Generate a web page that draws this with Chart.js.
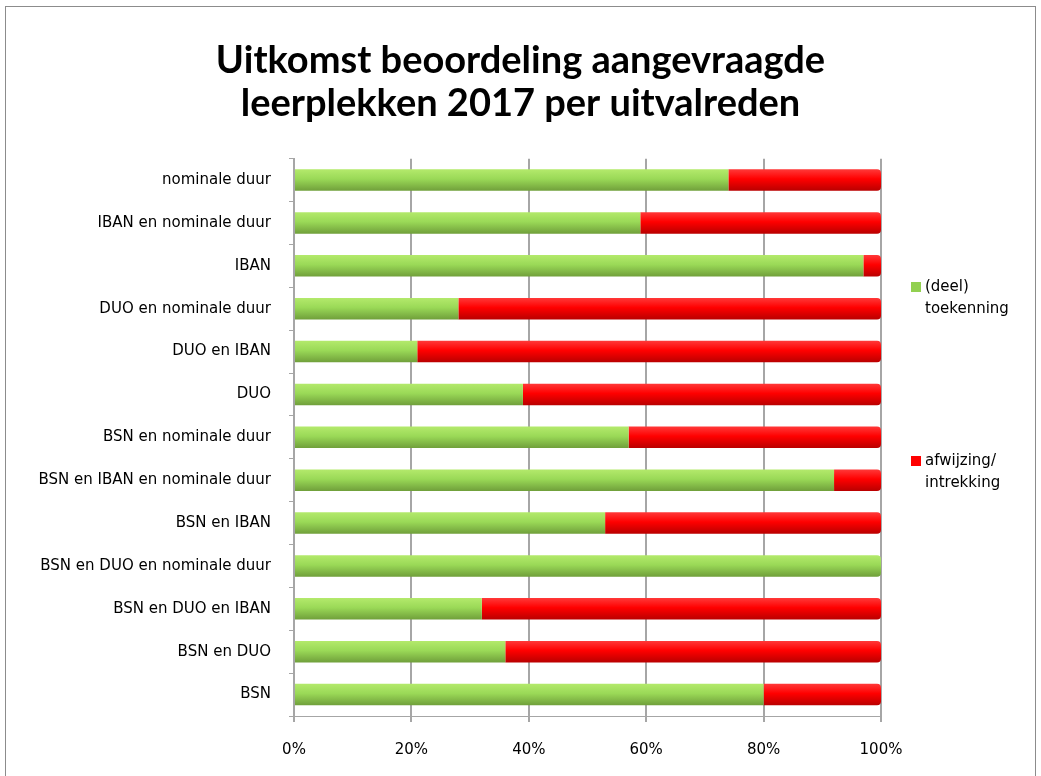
<!DOCTYPE html>
<html>
<head>
<meta charset="utf-8">
<script src="https://cdn.jsdelivr.net/npm/chart.js@4"></script>
<style>
  html, body { margin: 0; padding: 0; background: #fff; }
  #wrap { width: 1041px; height: 776px; }
</style>
</head>
<body>
<div id="wrap"><canvas id="chart" width="1041" height="776"></canvas></div>
<script>
const categories = [
  "nominale duur",
  "IBAN en nominale duur",
  "IBAN",
  "DUO en nominale duur",
  "DUO en IBAN",
  "DUO",
  "BSN en nominale duur",
  "BSN en IBAN en nominale duur",
  "BSN en IBAN",
  "BSN en DUO en nominale duur",
  "BSN en DUO en IBAN",
  "BSN en DUO",
  "BSN",
];
const toekenning = [74, 59, 97, 28, 21, 39, 57, 92, 53, 100, 32, 36, 80];
const afwijzing = [26, 41, 3, 72, 79, 61, 43, 8, 47, 0, 68, 64, 20];
const seriesNames = [["(deel)", "toekenning"], ["afwijzing/", "intrekking"]];
const titleLines = ["Uitkomst beoordeling aangevraagde", "leerplekken 2017 per uitvalreden"];

const GREEN = ["#b4ea6c", "#9ad957", "#6f9e3a"];
const RED = ["#ff3a3a", "#ff0000", "#b80000"];
const LABEL_FONT = "DejaVu Sans";

// cylinder look: vertical gradient per bar
const barFill = (cols) => (ctx) => {
  const chart = ctx.chart;
  if (!chart.chartArea) return cols[1];
  const y = chart.scales.y.getPixelForValue(ctx.dataIndex);
  const g = chart.ctx.createLinearGradient(0, y - 11, 0, y + 11);
  g.addColorStop(0, cols[0]);
  g.addColorStop(0.45, cols[1]);
  g.addColorStop(1, cols[2]);
  return g;
};

// round only the outer (right) end of each bar
const endRadius = (isLast) => (ctx) => {
  const last = isLast(ctx.dataIndex);
  return { topLeft: 0, bottomLeft: 0, topRight: last ? 4 : 0, bottomRight: last ? 4 : 0 };
};

const framePlugin = {
  id: "frame",
  beforeDraw(chart) {
    const c = chart.ctx;
    c.save();
    c.fillStyle = "#fff";
    c.fillRect(0, 0, chart.width, chart.height);
    c.strokeStyle = "#8c8c8c";
    c.lineWidth = 1;
    c.strokeRect(5.5, 6.5, 1030, 790);
    c.restore();
  },
};

const legendPlugin = {
  id: "sideLegend",
  afterDraw(chart) {
    const c = chart.ctx;
    const items = [
      { y: 287, color: "#92d050", text: seriesNames[0] },
      { y: 461, color: "#ff0000", text: seriesNames[1] },
    ];
    c.save();
    c.font = `15px ${LABEL_FONT}`;
    c.textBaseline = "middle";
    items.forEach((it) => {
      c.fillStyle = it.color;
      c.fillRect(911, it.y - 5, 10, 10);
      c.fillStyle = "#000";
      it.text.forEach((t, i) => c.fillText(t, 925, it.y + i * 22));
    });
    c.restore();
  },
};

new Chart(document.getElementById("chart"), {
  type: "bar",
  data: {
    labels: categories,
    datasets: [
      {
        label: seriesNames[0].join(" "),
        data: toekenning,
        backgroundColor: barFill(GREEN),
        borderRadius: endRadius((i) => afwijzing[i] === 0),
        borderSkipped: false,
        categoryPercentage: 1,
        barPercentage: 0.5,
      },
      {
        label: seriesNames[1].join(" "),
        data: afwijzing,
        backgroundColor: barFill(RED),
        borderRadius: endRadius(() => true),
        borderSkipped: false,
        categoryPercentage: 1,
        barPercentage: 0.5,
      },
    ],
  },
  options: {
    indexAxis: "y",
    responsive: false,
    animation: false,
    layout: { padding: 0 },
    plugins: {
      legend: { display: false },
      tooltip: { enabled: false },
      title: {
        display: true,
        text: titleLines,
        color: "#000",
        font: { family: "Lato", size: 38, weight: "bold", lineHeight: 1.14 },
        padding: { top: 39, bottom: 33 },
      },
    },
    scales: {
      x: {
        stacked: true,
        min: 0,
        max: 100,
        ticks: {
          stepSize: 20,
          callback: (v) => v + "%",
          color: "#000",
          padding: 19,
          font: { family: LABEL_FONT, size: 15 },
        },
        grid: { color: "#a6a6a6", lineWidth: 2, tickLength: 6 },
        border: { color: "#a6a6a6", width: 1 },
        afterFit: (scale) => { scale.height = 60; },
      },
      y: {
        stacked: true,
        ticks: {
          color: "#000",
          padding: 18,
          font: { family: LABEL_FONT, size: 15 },
        },
        grid: { drawOnChartArea: false, offset: true, color: "#a6a6a6", tickLength: 5 },
        border: { color: "#a6a6a6", width: 2 },
        afterFit: (scale) => { scale.width = 294; },
      },
      // empty right-hand box that keeps room for the legend
      legendSpace: {
        type: "category",
        position: "right",
        display: true,
        ticks: { display: false },
        grid: { display: false },
        border: { display: false },
        afterFit: (scale) => { scale.width = 160; },
      },
    },
  },
  plugins: [framePlugin, legendPlugin],
});
</script>
</body>
</html>
